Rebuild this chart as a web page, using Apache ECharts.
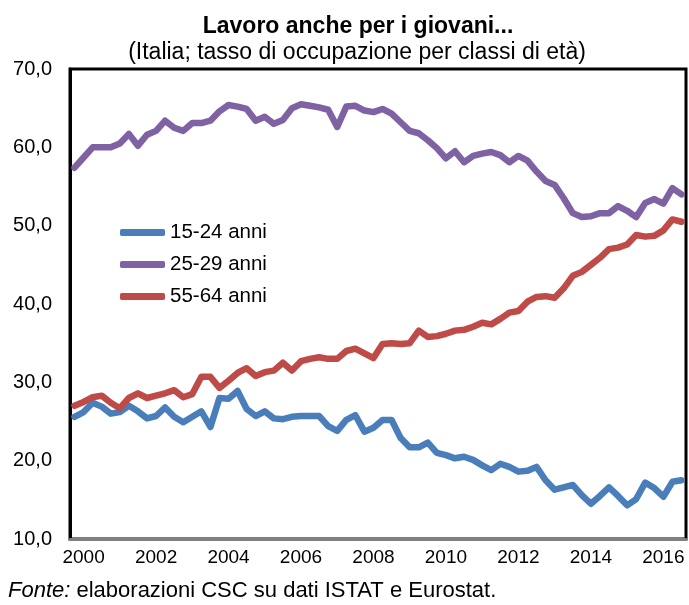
<!DOCTYPE html>
<html>
<head>
<meta charset="utf-8">
<script src="https://cdn.jsdelivr.net/npm/echarts@6/dist/echarts.min.js"></script>
<style>
html,body{margin:0;padding:0;background:#fff;}
#chart{width:689px;height:605px;}
</style>
</head>
<body>
<div id="chart"></div>
<script>
// Quarterly data, 1999Q4 .. 2016Q3 (68 quarters)
const quarters = [];
for (let y = 1999, q = 4; quarters.length < 68; ) {
  quarters.push(y + 'Q' + q);
  q++; if (q > 4) { q = 1; y++; }
}
const seriesNames = ['15-24 anni', '25-29 anni', '55-64 anni'];
const yTicks = [10, 20, 30, 40, 50, 60, 70];

const age1524 = [25.6,26.2,27.4,26.9,26.0,26.2,27.0,26.3,25.4,25.7,26.8,25.6,24.9,25.6,26.3,24.3,
  28.0,27.9,28.9,26.6,25.7,26.3,25.4,25.3,25.6,25.7,25.7,25.7,24.4,23.8,25.2,25.8,
  23.7,24.2,25.2,25.2,22.9,21.7,21.7,22.3,21.0,20.7,20.3,20.5,20.1,19.4,18.8,19.6,
  19.2,18.6,18.7,19.2,17.5,16.3,16.6,16.9,15.6,14.5,15.5,16.6,15.5,14.3,15.1,17.2,
  16.5,15.4,17.3,17.5];
const age2529 = [57.4,58.7,60.0,60.0,60.0,60.5,61.7,60.2,61.6,62.1,63.4,62.5,62.1,63.1,63.1,63.4,
  64.6,65.4,65.2,64.9,63.4,63.9,63.0,63.5,65.0,65.5,65.3,65.1,64.8,62.6,65.2,65.3,
  64.7,64.5,64.9,64.3,63.2,62.1,61.8,60.9,59.9,58.6,59.5,58.1,58.9,59.2,59.4,59.0,
  58.1,58.9,58.3,56.9,55.7,55.2,53.5,51.6,51.1,51.2,51.6,51.6,52.5,51.9,51.1,52.9,
  53.4,52.8,54.8,54.0];
const age5564 = [27.0,27.5,28.1,28.3,27.4,26.7,28.0,28.6,28.0,28.3,28.6,29.0,28.1,28.5,30.7,30.7,
  29.3,30.2,31.2,31.8,30.8,31.3,31.5,32.5,31.5,32.7,33.0,33.2,33.0,33.0,34.0,34.3,
  33.7,33.1,34.9,35.0,34.9,35.0,36.6,35.8,35.9,36.2,36.6,36.7,37.1,37.6,37.4,38.1,
  38.9,39.1,40.3,40.9,41.0,40.8,42.0,43.6,44.1,45.0,45.9,47.0,47.2,47.6,48.8,48.6,
  48.7,49.4,50.8,50.5];

const colors = ['#4A7EBB', '#7F62A3', '#BE4B48'];
const FONT = '"Liberation Sans", Arial, sans-serif';

const chart = echarts.init(document.getElementById('chart'), null, {renderer: 'canvas'});

function mkSeries(name, data, color, z) {
  return {
    name, type: 'line', data, showSymbol: false, symbol: 'none', z,
    lineStyle: {color, width: 6.5, cap: 'round', join: 'round'},
    itemStyle: {color},
    emphasis: {disabled: true}
  };
}

chart.setOption({
  animation: false,
  backgroundColor: '#fff',
  title: [
    {text: 'Lavoro anche per i giovani...', left: 353, top: 10, textAlign: 'center',
     textStyle: {fontFamily: FONT, fontSize: 23, fontWeight: 'bold', color: '#000'}},
    {text: '(Italia; tasso di occupazione per classi di età)', left: 352, top: 36, textAlign: 'center',
     textStyle: {fontFamily: FONT, fontSize: 23, fontWeight: 'normal', color: '#000'}}
  ],
  legend: {
    orient: 'vertical', left: 115, top: 217,
    itemWidth: 45, itemHeight: 7, itemGap: 11,
    icon: 'roundRect',
    data: seriesNames,
    textStyle: {fontFamily: FONT, fontSize: 20.5, color: '#000', lineHeight: 20},
    selectedMode: false
  },
  grid: {left: 70, right: 3, top: 69, bottom: 66, show: true,
         borderColor: '#000', borderWidth: 3, backgroundColor: 'transparent'},
  xAxis: {
    type: 'category', data: quarters, boundaryGap: true,
    axisLine: {show: true, lineStyle: {color: '#808080', width: 3}},
    axisTick: {show: false},
    splitLine: {show: false},
    axisLabel: {
      interval: (i, v) => v.endsWith('Q1') && (parseInt(v) % 2 === 0),
      formatter: v => v.slice(0, 4),
      fontFamily: FONT, fontSize: 19, color: '#000', margin: 9
    }
  },
  yAxis: {
    type: 'value', min: yTicks[0], max: yTicks[yTicks.length - 1], interval: 10,
    axisLine: {show: true, lineStyle: {color: '#000', width: 3}},
    axisTick: {show: false},
    splitLine: {show: false},
    axisLabel: {formatter: v => v.toFixed(1).replace('.', ','),
      fontFamily: FONT, fontSize: 20, color: '#000', margin: 18}
  },
  graphic: [{
    type: 'text', left: 8, top: 580,
    style: {
      text: '{i|Fonte:} elaborazioni CSC su dati ISTAT e Eurostat.',
      font: '22px ' + FONT, fill: '#000',
      rich: {i: {fontStyle: 'italic', fontFamily: FONT, fontSize: 22, fill: '#000'}}
    }
  }],
  series: [
    mkSeries(seriesNames[0], age1524, colors[0], 2),
    mkSeries(seriesNames[1], age2529, colors[1], 3),
    mkSeries(seriesNames[2], age5564, colors[2], 4)
  ]
});
</script>
</body>
</html>
